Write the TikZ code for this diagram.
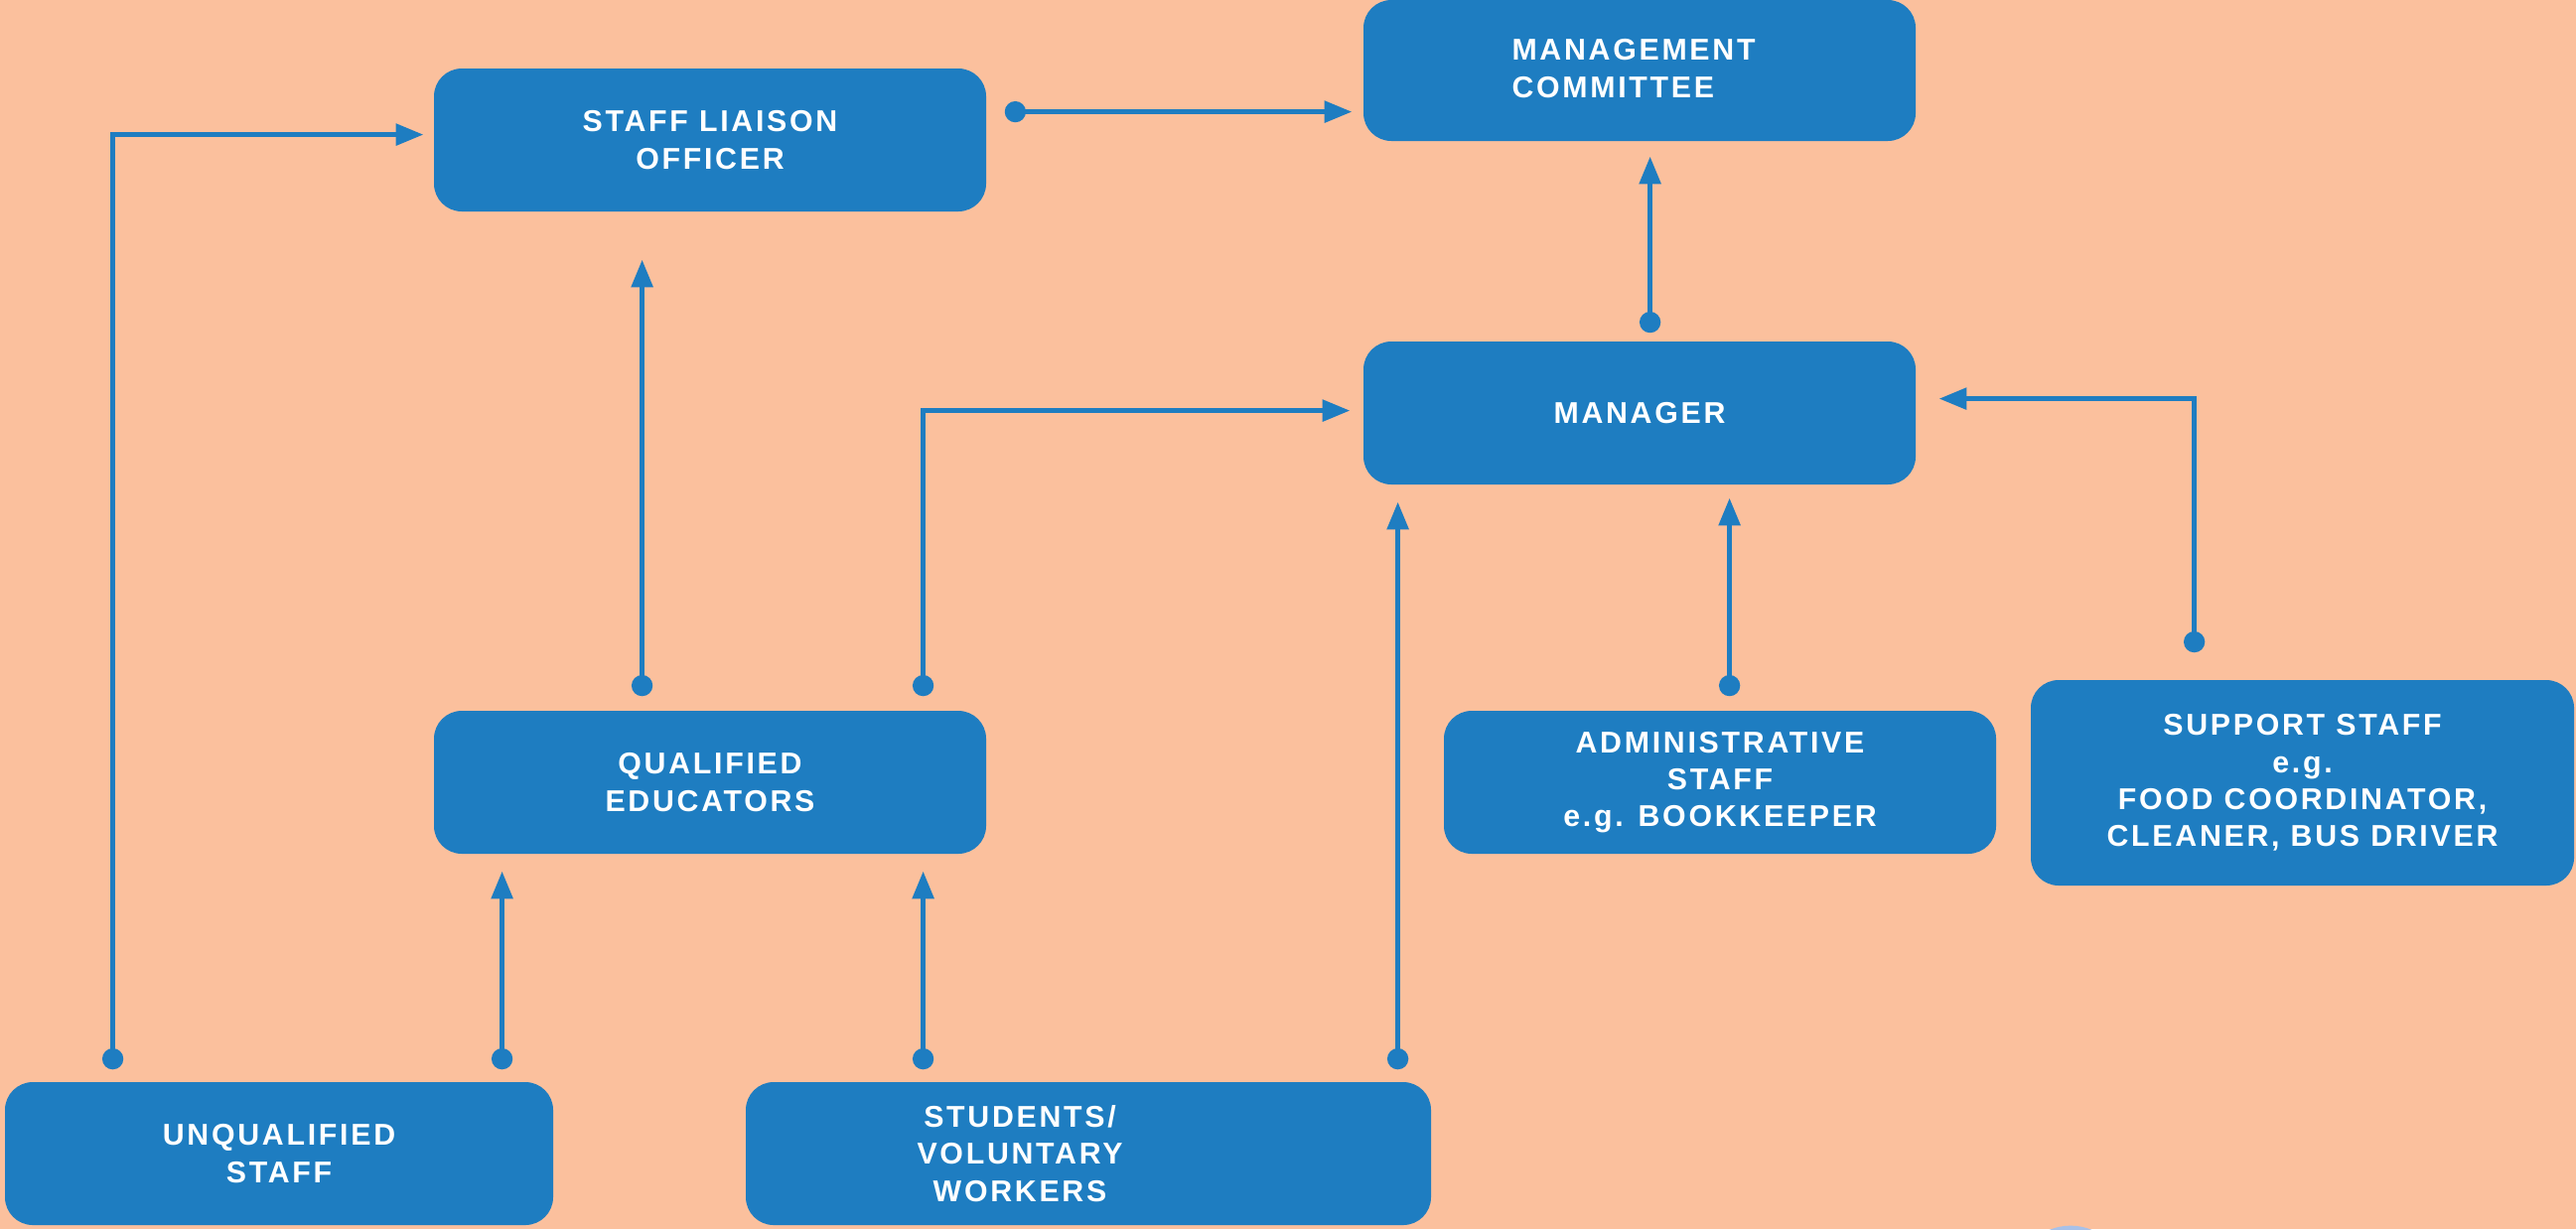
\documentclass[tikz,border=0pt]{standalone}
\usepackage{fontspec}
\setmainfont{Liberation Sans}[LetterSpace=9]
\usetikzlibrary{arrows.meta}
\definecolor{bgpeach}{RGB}{251,192,157}
\definecolor{boxblue}{RGB}{30,125,193}
\definecolor{lightblue}{RGB}{168,193,233}
\begin{document}
\begin{tikzpicture}[x=0.5pt,y=-0.5pt,
  box/.style={fill=boxblue, rounded corners=14pt, inner sep=0pt, text=white,
    font=\bfseries\fontsize{15.15}{18.65}\selectfont, align=center},
  boxtext/.style={inner sep=0pt, text=white,
    font=\bfseries\fontsize{15.15}{18.65}\selectfont, align=center},
  conn/.style={draw=boxblue, line width=2.8pt,
    {Circle[length=10.6pt]}-{Triangle[length=14pt,width=10.5pt]}}]
\fill[bgpeach] (0,0) rectangle (2594,1238);
\useasboundingbox (0,0) rectangle (2594,1238);
\begin{scope}
\clip (0,0) rectangle (2594,1238);
\fill[lightblue] (2085,1290) circle[radius=27.7pt];
\end{scope}

\node[box, minimum width=278pt, minimum height=71pt] (mc) at (1651,71) {};
\node[boxtext, align=left] (mctext) at (1645,69) {MANAGEMENT\\COMMITTEE};
\node[box, minimum width=278pt, minimum height=72pt] (slo) at (715,141) {STAFF LIAISON\\OFFICER};
\node[box, minimum width=278pt, minimum height=72pt] (mgr) at (1651,416) {MANAGER};
\node[box, minimum width=278pt, minimum height=72pt] (qe) at (715,788) {QUALIFIED\\EDUCATORS};
\node[box, minimum width=278pt, minimum height=72pt] (adm) at (1732,788) {ADMINISTRATIVE\\STAFF\\e.g. BOOKKEEPER};
\node[box, minimum width=273.5pt, minimum height=103.5pt] (sup) at (2318.5,788.5) {SUPPORT STAFF\\e.g.\\FOOD COORDINATOR,\\CLEANER, BUS DRIVER};
\node[box, minimum width=276pt, minimum height=72pt] (uq) at (281,1162) {UNQUALIFIED\\STAFF};
\node[box, minimum width=345pt, minimum height=72pt] (st) at (1096,1162) {};
\node[boxtext] (sttext) at (1027,1162) {STUDENTS/\\VOLUNTARY\\WORKERS};

% connectors
\draw[conn] ([shift={(109,-12.4)}]uq.north west) |- ([shift={(-10,67)}]slo.north west);
\draw[conn] ([shift={(501,-12.4)}]uq.north west) -- ([shift={(69,17)}]qe.south west);
\draw[conn] ([shift={(179,-12.4)}]st.north west) -- ([shift={(493,17)}]qe.south west);
\draw[conn] ([shift={(657,-12.4)}]st.north west) -- ([shift={(35,17)}]mgr.south west);
\draw[conn] ([shift={(210,-14.4)}]qe.north west) -- ([shift={(210,48)}]slo.south west);
\draw[conn] ([shift={(493,-14.4)}]qe.north west) |- ([shift={(-13,70)}]mgr.north west);
\draw[conn] ([shift={(18.4,44)}]slo.north east) -- ([shift={(-11,113)}]mc.north west);
\draw[conn] ([shift={(289,-8.4)}]mgr.north west) -- ([shift={(289,15)}]mc.south west);
\draw[conn] ([shift={(288,-14.4)}]adm.north west) -- ([shift={(369,13)}]mgr.south west);
\draw[conn] ([shift={(165,-27.4)}]sup.north west) |- ([shift={(23,58)}]mgr.north east);
\end{tikzpicture}
\end{document}
